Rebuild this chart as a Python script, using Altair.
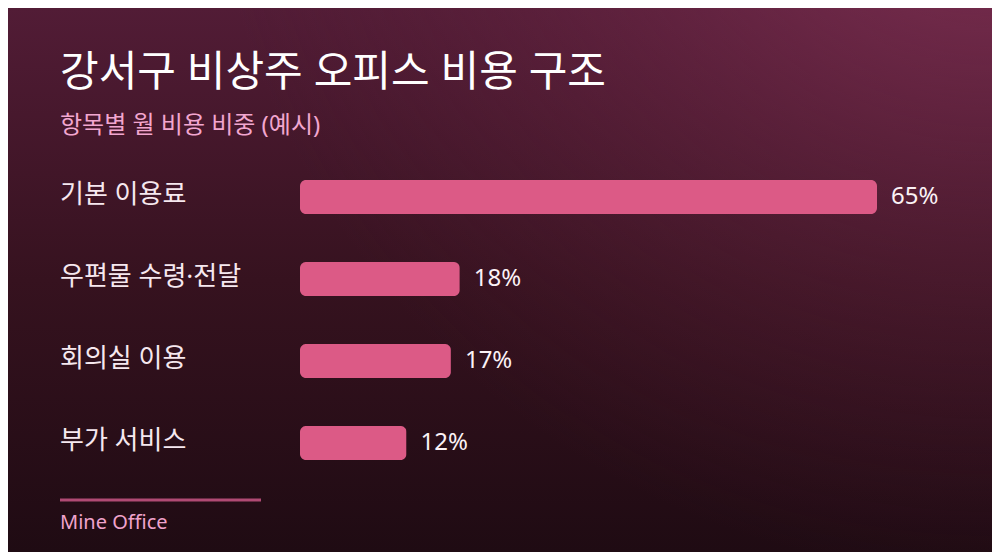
import altair as alt
import pandas as pd

categories = ["기본 이용료", "우편물 수령·전달", "회의실 이용", "부가 서비스"]
values = [65, 18, 17, 12]
value_labels = ["65%", "18%", "17%", "12%"]

title_text = "강서구 비상주 오피스 비용 구조"
subtitle_text = "항목별 월 비용 비중 (예시)"
footer_text = "Mine Office"

FONT = "Noto Sans, Noto Sans CJK KR"
W, H = 984, 544

df = pd.DataFrame({"category": categories, "value": values, "label": value_labels})
one = pd.DataFrame({"k": [0]})

xscale = alt.Scale(domain=[0, 65], range=[292, 869])
yscale = alt.Scale(domain=categories, range=[172, 452], paddingInner=0.585, paddingOuter=0)

bg = alt.Chart(one).mark_rect(
    fill=alt.Gradient(
        gradient="linear", x1=0, y1=0, x2=0, y2=1,
        stops=[alt.GradientStop(offset=0, color="#521c36"),
               alt.GradientStop(offset=0.5, color="#36121f"),
               alt.GradientStop(offset=1, color="#1f0b13")]
    )
).encode(x=alt.value(0), x2=alt.value(W), y=alt.value(0), y2=alt.value(H))

glow = alt.Chart(one).mark_rect(
    fill=alt.Gradient(
        gradient="radial", x1=1, y1=0, r1=0, x2=1, y2=0, r2=0.8,
        stops=[alt.GradientStop(offset=0, color="rgba(140,54,92,0.95)"),
               alt.GradientStop(offset=0.5, color="rgba(115,42,74,0.45)"),
               alt.GradientStop(offset=1, color="rgba(90,30,55,0)")]
    )
).encode(x=alt.value(0), x2=alt.value(W), y=alt.value(0), y2=alt.value(H))

base = alt.Chart(df)

bars = base.mark_bar(color="#dc5a86", cornerRadius=6).encode(
    x=alt.X("value:Q", scale=xscale, axis=None),
    x2=alt.value(292),
    y=alt.Y("category:N", scale=yscale, axis=None, sort=None),
)

cat_text = base.mark_text(
    align="left", baseline="middle", font=FONT, fontSize=26, color="#f6e8ef", dy=-2
).encode(
    x=alt.value(52),
    y=alt.Y("category:N", scale=yscale, axis=None, sort=None),
    text="category:N",
)

val_text = base.mark_text(
    align="left", baseline="middle", font=FONT, fontSize=24, color="#fbf2f6", dx=14
).encode(
    x=alt.X("value:Q", scale=xscale, axis=None),
    y=alt.Y("category:N", scale=yscale, axis=None, sort=None),
    text="label:N",
)

title = alt.Chart(one).mark_text(
    align="left", baseline="alphabetic", font=FONT, fontSize=42, fontWeight="normal", color="#ffffff"
).encode(x=alt.value(52), y=alt.value(78), text=alt.value(title_text))

subtitle = alt.Chart(one).mark_text(
    align="left", baseline="alphabetic", font=FONT, fontSize=24, color="#f2a6cf"
).encode(x=alt.value(52), y=alt.value(125), text=alt.value(subtitle_text))

rule = alt.Chart(one).mark_rule(color="#b04a74", strokeWidth=3).encode(
    x=alt.value(52), x2=alt.value(253), y=alt.value(492)
)

footer = alt.Chart(one).mark_text(
    align="left", baseline="alphabetic", font=FONT, fontSize=20, color="#f0a3cc"
).encode(x=alt.value(52), y=alt.value(521), text=alt.value(footer_text))

chart = alt.layer(bg, glow, bars, cat_text, val_text, title, subtitle, rule, footer).properties(
    width=W, height=H, padding=0, autosize=alt.AutoSizeParams(type="none"), background="#200b14"
).configure_view(stroke=None)

chart.save("out.html", embed_options={"renderer": "svg", "actions": False})
